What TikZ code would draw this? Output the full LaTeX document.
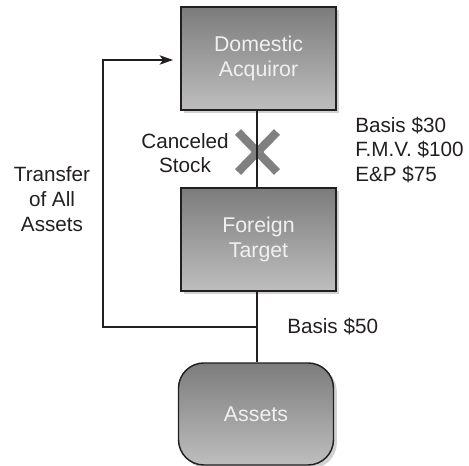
\documentclass[tikz,border=0pt]{standalone}
\usepackage{fontspec}
\setmainfont{Liberation Sans}
\usetikzlibrary{arrows.meta,shadows}
\definecolor{boxtop}{HTML}{7C7C7C}
\definecolor{boxbot}{HTML}{BEBEBE}
\definecolor{ink}{HTML}{231F20}
\definecolor{boxtext}{HTML}{F0F0F0}
\definecolor{crossgray}{HTML}{808080}
\tikzset{
  entity/.style={draw=ink, line width=1.1pt, top color=boxtop, bottom color=boxbot,
    text=boxtext, font=\fontsize{16}{19}\selectfont, align=center,
    minimum width=116.25pt, minimum height=77.25pt, inner sep=0pt,
    drop shadow={shadow xshift=2.5pt, shadow yshift=-2.5pt, opacity=0.18, fill=black}},
  roundentity/.style={entity, rounded corners=19pt, minimum height=76.5pt},
  label/.style={text=ink, font=\fontsize{15.5}{18.5}\selectfont, inner sep=0pt},
  link/.style={draw=ink, line width=1.1pt},
  arrowlink/.style={link, -{Stealth[length=10pt, width=7pt, inset=2.5pt]}},
  crossmark/.style={draw=crossgray, line width=6.2pt}
}
\begin{document}
\begin{tikzpicture}[x=0.75pt, y=-0.75pt]
\useasboundingbox (0,0) rectangle (469,466);

% entities
\node[entity] (DA) at (258.5,58.5) {Domestic\\Acquiror};
\node[entity] (FT) at (258.5,239.5) {Foreign\\Target};
\node[roundentity] (AS) at (256,414) {Assets};

% cancelled stock mark
\draw[crossmark] (238,132) -- (277,172);
\draw[crossmark] (238,172) -- (277,132);

% connectors
\coordinate (j) at (257,327);
\coordinate (lx) at (103,327);
\coordinate (tip) at (173,60);
\draw[link] (DA.south -| j) -- (FT.north -| j);
\draw[link] (FT.south -| j) -- (AS.north -| j);
\draw[arrowlink] (j) -- (lx) |- (tip);

% labels
\node[label, align=center] (cs) at (185,153) {Canceled\\Stock};
\node[label, align=left, anchor=west] (st) at (355,150) {Basis \$30\\F.M.V. \$100\\E\&P \$75};
\node[label, align=center] (tr) at (52,199) {Transfer\\of All\\Assets};
\node[label, anchor=west] (b50) at (287,327) {Basis \$50};
\end{tikzpicture}
\end{document}
